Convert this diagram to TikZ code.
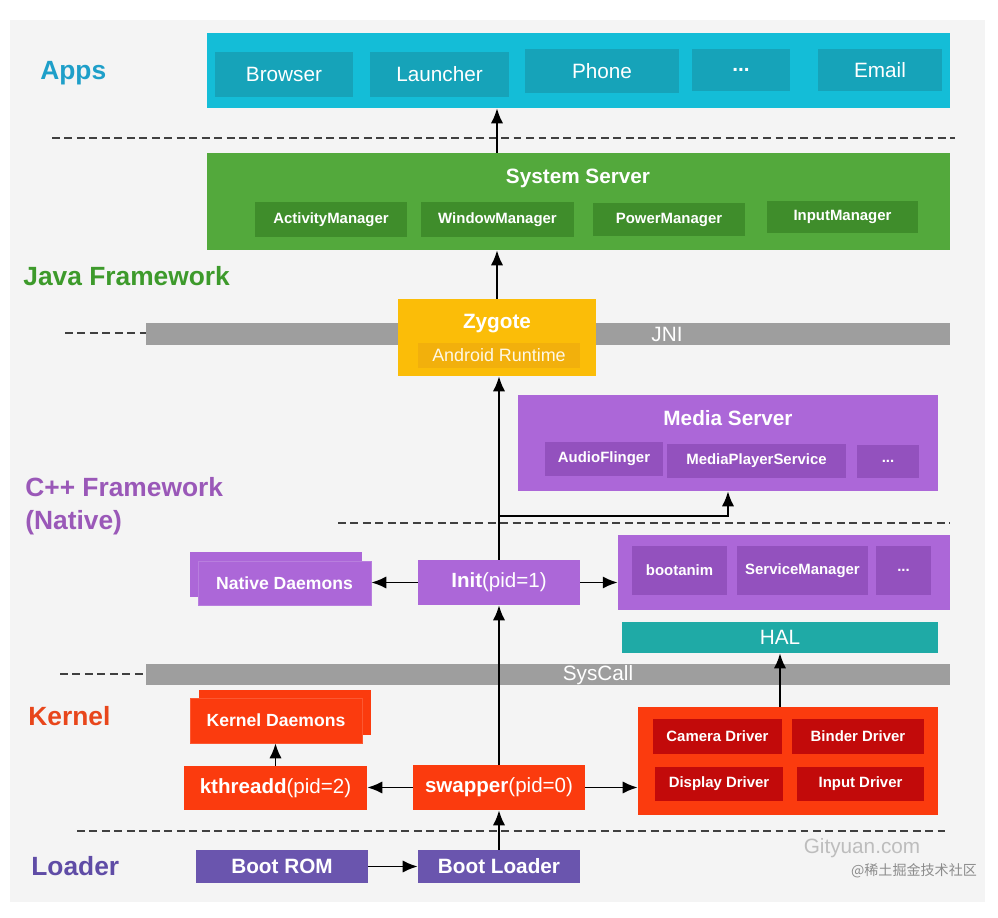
\documentclass[tikz,border=0pt]{standalone}
\usepackage{fontspec}
\setmainfont{Liberation Sans}
\newfontfamily\cjkfont{Noto Sans CJK SC}
\usepackage{xcolor}
\usepackage{tikz}
\usetikzlibrary{arrows.meta}
\definecolor{cbg}{HTML}{F4F4F4}
\definecolor{capps}{HTML}{14BDD7}
\definecolor{cappsub}{HTML}{16A3B9}
\definecolor{cappslbl}{HTML}{1E9FC9}
\definecolor{cjava}{HTML}{53A93C}
\definecolor{cjavasub}{HTML}{3F8D2B}
\definecolor{cjavalbl}{HTML}{3D9A2B}
\definecolor{cbar}{HTML}{9E9E9E}
\definecolor{czyg}{HTML}{FBBD08}
\definecolor{czygin}{HTML}{F2B00C}
\definecolor{cnat}{HTML}{AC67D8}
\definecolor{cnatsub}{HTML}{9351BE}
\definecolor{cnatlbl}{HTML}{9A58B8}
\definecolor{chal}{HTML}{1FAAA6}
\definecolor{cker}{HTML}{FB3B0E}
\definecolor{ckersub}{HTML}{C20A0A}
\definecolor{ckerlbl}{HTML}{E8461B}
\definecolor{cload}{HTML}{6A55AE}
\definecolor{cloadlbl}{HTML}{5F4CA6}
\definecolor{cwm}{HTML}{BDBDBD}

\tikzset{
  box/.style={inner sep=0pt,text=white},
  title/.style={text=white,inner sep=0pt,font=\fontsize{11.8}{14}\selectfont\bfseries},
  subbox/.style={box,font=\fontsize{8.5}{10}\selectfont\bfseries},
  appbox/.style={box,fill=cappsub,font=\fontsize{11.8}{14}\selectfont},
  procbox/.style={box,font=\fontsize{11.7}{14}\selectfont},
  daemon/.style={box,font=\fontsize{10}{12}\selectfont\bfseries},
  layerlbl/.style={anchor=west,inner sep=0pt,font=\fontsize{15}{18.5}\selectfont\bfseries,align=left},
  bar/.style={box,fill=cbar,font=\fontsize{11.8}{14}\selectfont},
  arr/.style={-{Latex[length=8.5pt,width=7pt]},line width=1.1pt,black},
  sepline/.style={line width=0.8pt,dash pattern=on 4.5pt off 2.6pt,black!75}
}

\begin{document}
\begin{tikzpicture}[x=0.02cm,y=-0.02cm]
  \useasboundingbox (0,0) rectangle (998,918);
  \fill[cbg] (10,20) rectangle (985,902);

  % Apps
  \node[layerlbl,text=cappslbl] (lapps) at (40,73) {Apps};
  \node[box,fill=capps,minimum width=14.86cm,minimum height=1.5cm] (apps) at (578.5,70.5) {};
  \node[appbox,minimum width=2.76cm,minimum height=0.9cm] (browser) at (284,74.5) {Browser};
  \node[appbox,minimum width=2.78cm,minimum height=0.9cm] (launcher) at (439.5,74.5) {Launcher};
  \node[appbox,minimum width=3.08cm,minimum height=0.88cm] (phone) at (602,71) {Phone};
  \node[appbox,minimum width=1.96cm,minimum height=0.84cm,font=\fontsize{11.8}{14}\selectfont\bfseries] (adots) at (741,70) {...};
  \node[appbox,minimum width=2.48cm,minimum height=0.84cm] (email) at (880,70) {Email};

  \draw[sepline] (52,138) -- (955,138);

  % Java framework
  \node[box,fill=cjava,minimum width=14.86cm,minimum height=1.94cm] (sysserver) at (578.5,201.5) {};
  \node[title] (sstitle) at (578,178) {System Server};
  \node[subbox,fill=cjavasub,minimum width=3.04cm,minimum height=0.7cm] (activity) at (331,219.5) {ActivityManager};
  \node[subbox,fill=cjavasub,minimum width=3.06cm,minimum height=0.7cm] (window) at (497.5,219.5) {WindowManager};
  \node[subbox,fill=cjavasub,minimum width=3.04cm,minimum height=0.66cm] (power) at (669,219.5) {PowerManager};
  \node[subbox,fill=cjavasub,minimum width=3.02cm,minimum height=0.64cm] (inputmgr) at (842.5,217) {InputManager};
  \node[layerlbl,text=cjavalbl] (ljava) at (23,276) {Java Framework};

  \draw[sepline] (65,333) -- (146,333);
  \node[bar,minimum width=16.08cm,minimum height=0.44cm] (jni) at (548,334) {};
  \node[box,font=\fontsize{11.8}{14}\selectfont] (jnitext) at (667,334) {JNI};

  \node[box,fill=czyg,minimum width=3.96cm,minimum height=1.54cm] (zygote) at (497,337.5) {};
  \node[title] (zygtitle) at (497,324) {Zygote};
  \node[box,fill=czygin,text=white!90!czyg,minimum width=3.24cm,minimum height=0.5cm,
    font=\fontsize{10.2}{12}\selectfont] (runtime) at (499,355.5) {Android Runtime};

  % C++ framework
  \node[box,fill=cnat,minimum width=8.4cm,minimum height=1.92cm] (media) at (728,443) {};
  \node[title] (mstitle) at (728,418) {Media Server};
  \node[subbox,fill=cnatsub,minimum width=2.36cm,minimum height=0.68cm] (audio) at (604,459) {AudioFlinger};
  \node[subbox,fill=cnatsub,minimum width=3.58cm,minimum height=0.68cm] (mps) at (756.5,461) {MediaPlayerService};
  \node[subbox,fill=cnatsub,minimum width=1.24cm,minimum height=0.66cm] (mdots) at (888,461.5) {...};
  \node[layerlbl,text=cnatlbl] (lnative) at (25,506) {C++ Framework\\(Native)};

  \draw[sepline] (338,523) -- (950,523);

  \node[procbox,fill=cnat,minimum width=3.24cm,minimum height=0.9cm] (init) at (499,582.5) {\textbf{Init}(pid=1)};
  \node[box,fill=cnat,minimum width=3.44cm,minimum height=0.9cm] (ndback) at (276,574.5) {};
  \node[daemon,fill=cnat,draw=cnat!85!white,line width=0.4pt,minimum width=3.46cm,minimum height=0.88cm] (natd) at (284.5,583) {Native Daemons};
  \node[box,fill=cnat,minimum width=6.64cm,minimum height=1.5cm] (bootbox) at (784,572.5) {};
  \node[subbox,fill=cnatsub,minimum width=1.9cm,minimum height=0.98cm] (bootanim) at (679.5,570.5) {bootanim};
  \node[subbox,fill=cnatsub,minimum width=2.62cm,minimum height=0.98cm] (svcmgr) at (802.5,570.5) {ServiceManager};
  \node[subbox,fill=cnatsub,minimum width=1.1cm,minimum height=0.98cm] (sdots) at (903.5,570.5) {...};

  \node[box,fill=chal,minimum width=6.32cm,minimum height=0.62cm,font=\fontsize{11.8}{14}\selectfont] (hal) at (780,637.5) {HAL};

  \draw[sepline] (60,674) -- (146,674);
  \node[bar,minimum width=16.08cm,minimum height=0.42cm] (syscall) at (548,674.5) {};
  \node[box,font=\fontsize{11.8}{14}\selectfont] (sctext) at (598,675) {SysCall};

  % Kernel
  \node[layerlbl,text=ckerlbl] (lkernel) at (28,716) {Kernel};
  \node[box,fill=cker,minimum width=3.44cm,minimum height=0.9cm] (kdback) at (285,712.5) {};
  \node[daemon,fill=cker,draw=cker!85!white,line width=0.4pt,minimum width=3.44cm,minimum height=0.9cm] (kernd) at (276,720.5) {Kernel Daemons};
  \node[procbox,fill=cker,minimum width=3.66cm,minimum height=0.88cm] (kthreadd) at (275.5,788) {\textbf{kthreadd}(pid=2)};
  \node[procbox,fill=cker,minimum width=3.44cm,minimum height=0.9cm] (swapper) at (499,787.5) {\textbf{swapper}(pid=0)};
  \node[box,fill=cker,minimum width=6cm,minimum height=2.16cm] (drivers) at (788,761) {};
  \node[subbox,fill=ckersub,minimum width=2.58cm,minimum height=0.7cm] (camera) at (717.5,736.5) {Camera Driver};
  \node[subbox,fill=ckersub,minimum width=2.64cm,minimum height=0.7cm] (binder) at (858,736.5) {Binder Driver};
  \node[subbox,fill=ckersub,minimum width=2.56cm,minimum height=0.68cm] (display) at (719,784) {Display Driver};
  \node[subbox,fill=ckersub,minimum width=2.54cm,minimum height=0.68cm] (inputdrv) at (860.5,784) {Input Driver};

  \draw[sepline] (77,831) -- (945,831);

  % Loader
  \node[layerlbl,text=cloadlbl] (lloader) at (31,866) {Loader};
  \node[procbox,fill=cload,minimum width=3.44cm,minimum height=0.66cm,font=\fontsize{11.8}{14}\selectfont\bfseries] (bootrom) at (282,866.5) {Boot ROM};
  \node[procbox,fill=cload,minimum width=3.24cm,minimum height=0.66cm,font=\fontsize{11.8}{14}\selectfont\bfseries] (bootldr) at (499,866.5) {Boot Loader};

  \node[text=cwm,inner sep=0pt,font=\fontsize{11.8}{14}\selectfont] (site) at (862,848) {Gityuan.com};
  \node[text=black!45,inner sep=0pt,font=\cjkfont\fontsize{8}{10}\selectfont] (juejin) at (914,871) {@稀土掘金技术社区};

  % connectors
  \coordinate (branch) at (499,516);
  \draw[arr] (bootrom) -- (bootldr);
  \draw[arr] (bootldr) -- (swapper);
  \draw[arr] (swapper.west) -- (swapper.west -| kthreadd.east);
  \draw[arr] (swapper.east) -- (swapper.east -| drivers.west);
  \draw[arr] (kthreadd.north) -- (kthreadd.north |- kernd.south);
  \draw[arr] (swapper) -- (init);
  \draw[arr] (hal.south |- drivers.north) -- (hal.south);
  \draw[arr] (init.west) -- (init.west -| natd.east);
  \draw[arr] (init.east) -- (init.east -| bootbox.west);
  \draw[arr] (init.north) -- (init.north |- zygote.south);
  \draw[arr] (branch) -| (media.south);
  \draw[arr] (zygote.north) -- (zygote.north |- sysserver.south);
  \draw[arr] (sysserver.north -| zygote) -- (apps.south -| zygote);
\end{tikzpicture}
\end{document}
